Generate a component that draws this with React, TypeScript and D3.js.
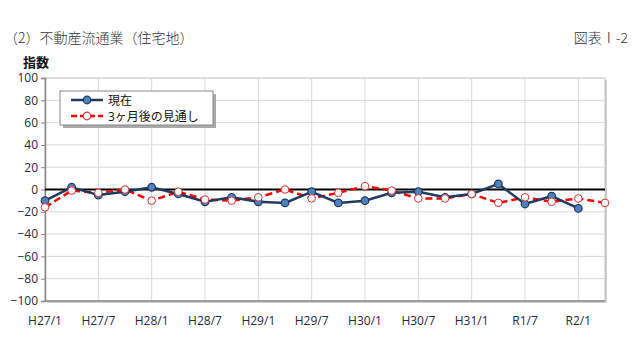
import { useEffect, useRef } from 'react';
import * as d3 from 'd3';

// Quarterly points, H27/1 .. R2/4 (見通し runs one quarter further)
const TICK_LABELS = ['H27/1', 'H27/7', 'H28/1', 'H28/7', 'H29/1', 'H29/7', 'H30/1', 'H30/7', 'H31/1', 'R1/7', 'R2/1'];
const CURRENT = [-10, 2, -5, -2, 2, -4, -11, -7, -11, -12, -2, -12, -10, -3, -2, -7, -4, 5, -13, -6, -17];
const OUTLOOK = [-16, -1, -3, 0, -10, -2, -9, -10, -7, 0, -8, -3, 3, -1, -8, -8, -4, -12, -7, -11, -8, -12];
const Y_TICKS = d3.range(-100, 101, 20);

const WIDTH = 640;
const HEIGHT = 360;
const PLOT = { left: 45, right: 605, top: 78, bottom: 301 };

const SANS = '"Open Sans", "Noto Sans CJK JP", sans-serif';
const SERIF = '"Noto Sans CJK JP", "DejaVu Serif", serif';
const LINE_BLUE = '#1f3a5f';
const MARKER_BLUE = '#4f81bd';
const RED = '#ff0000';

export default function App() {
  const svgRef = useRef<SVGSVGElement>(null);

  useEffect(() => {
    const svg = d3.select(svgRef.current);
    svg.selectAll('*').remove();

    const x = d3.scaleLinear().domain([0, OUTLOOK.length - 1]).range([PLOT.left, PLOT.right]);
    const y = d3.scaleLinear().domain([-100, 100]).range([PLOT.bottom, PLOT.top]);

    // header texts -----------------------------------------------------------
    svg.append('text').attr('x', 4).attr('y', 43).style('font-family', SERIF).style('font-size', '14px')
      .style('font-weight', 300).attr('fill', '#333').text('（2）不動産流通業（住宅地）');
    svg.append('text').attr('x', 628).attr('y', 43).attr('text-anchor', 'end').style('font-family', SERIF)
      .style('font-size', '14px').style('font-weight', 300).attr('fill', '#333').text('図表Ⅰ-2');
    svg.append('text').attr('x', 23).attr('y', 67).style('font-family', SANS).style('font-size', '13px')
      .style('font-weight', 'bold').attr('fill', '#111').text('指数');

    // plot area shadow + frame ----------------------------------------------
    svg.append('rect').attr('x', PLOT.left + 2).attr('y', PLOT.top + 2)
      .attr('width', PLOT.right - PLOT.left).attr('height', PLOT.bottom - PLOT.top).attr('fill', '#d0d0d0');
    svg.append('rect').attr('x', PLOT.left).attr('y', PLOT.top)
      .attr('width', PLOT.right - PLOT.left).attr('height', PLOT.bottom - PLOT.top)
      .attr('fill', '#fff').attr('stroke', '#bfbfbf');

    const g = svg.append('g');

    // gridlines
    g.selectAll('line.hgrid').data(Y_TICKS).join('line').attr('class', 'hgrid')
      .attr('x1', PLOT.left).attr('x2', PLOT.right).attr('y1', (d) => y(d)).attr('y2', (d) => y(d))
      .attr('stroke', '#d9d9d9');
    g.selectAll('line.vgrid').data(TICK_LABELS).join('line').attr('class', 'vgrid')
      .attr('x1', (_, i) => x(i * 2)).attr('x2', (_, i) => x(i * 2))
      .attr('y1', PLOT.top).attr('y2', PLOT.bottom).attr('stroke', '#d9d9d9');

    // y axis
    const yAxis = d3.axisLeft(y).tickValues(Y_TICKS).tickSize(4).tickPadding(3);
    g.append('g').attr('transform', `translate(${PLOT.left},0)`).call(yAxis)
      .call((sel) => sel.select('.domain').attr('stroke', '#888').attr('stroke-width', 1.5))
      .call((sel) => sel.selectAll('.tick line').attr('stroke', '#888'))
      .selectAll('text').style('font-family', SANS).style('font-size', '12px').attr('fill', '#1f2a44');

    // bottom axis line
    g.append('line').attr('x1', PLOT.left).attr('x2', PLOT.right).attr('y1', PLOT.bottom).attr('y2', PLOT.bottom)
      .attr('stroke', '#888').attr('stroke-width', 1.5);

    // x labels
    g.selectAll('text.xlab').data(TICK_LABELS).join('text').attr('class', 'xlab')
      .attr('x', (_, i) => x(i * 2)).attr('y', 325).attr('text-anchor', 'middle')
      .style('font-family', SANS).style('font-size', '12px').attr('fill', '#1f2a44').text((d) => d);

    // zero line
    g.append('line').attr('x1', PLOT.left).attr('x2', PLOT.right).attr('y1', y(0)).attr('y2', y(0))
      .attr('stroke', '#000').attr('stroke-width', 2);

    // series -----------------------------------------------------------------
    const line = d3.line<number>().x((_, i) => x(i)).y((d) => y(d));

    g.append('path').datum(OUTLOOK).attr('d', line).attr('fill', 'none')
      .attr('stroke', RED).attr('stroke-width', 2.5).attr('stroke-dasharray', '7,4');
    g.append('path').datum(CURRENT).attr('d', line).attr('fill', 'none')
      .attr('stroke', LINE_BLUE).attr('stroke-width', 2.5);

    g.selectAll('circle.cur').data(CURRENT).join('circle').attr('class', 'cur')
      .attr('cx', (_, i) => x(i)).attr('cy', (d) => y(d)).attr('r', 3.8)
      .attr('fill', MARKER_BLUE).attr('stroke', LINE_BLUE).attr('stroke-width', 1.2);
    g.selectAll('circle.out').data(OUTLOOK).join('circle').attr('class', 'out')
      .attr('cx', (_, i) => x(i)).attr('cy', (d) => y(d)).attr('r', 3.8)
      .attr('fill', '#fff').attr('stroke', '#e03030').attr('stroke-width', 1);

    // legend -----------------------------------------------------------------
    const legend = svg.append('g').attr('transform', 'translate(60,91)');
    legend.append('rect').attr('x', 3).attr('y', 3).attr('width', 153).attr('height', 34).attr('fill', '#aaa');
    legend.append('rect').attr('width', 153).attr('height', 34).attr('fill', '#fff').attr('stroke', '#888');

    const items = [
      { label: '現在', stroke: LINE_BLUE, dash: null, fill: MARKER_BLUE, mstroke: LINE_BLUE },
      { label: '3ヶ月後の見通し', stroke: RED, dash: '6,3', fill: '#fff', mstroke: '#e03030' },
    ];
    items.forEach((item, i) => {
      const row = legend.append('g').attr('transform', `translate(0,${9 + i * 16})`);
      row.append('line').attr('x1', 11).attr('x2', 43).attr('stroke', item.stroke).attr('stroke-width', 2.5)
        .attr('stroke-dasharray', item.dash);
      row.append('circle').attr('cx', 27).attr('r', 3.8).attr('fill', item.fill)
        .attr('stroke', item.mstroke).attr('stroke-width', 1.2);
      row.append('text').attr('x', 48).attr('y', 4.5).style('font-family', SANS).style('font-size', '12px')
        .attr('fill', '#111').text(item.label);
    });
  }, []);

  return (
    <div style={{ position: 'absolute', left: 0, top: 0 }}>
      <svg ref={svgRef} width={WIDTH} height={HEIGHT} style={{ display: 'block', background: '#fff' }} />
    </div>
  );
}
